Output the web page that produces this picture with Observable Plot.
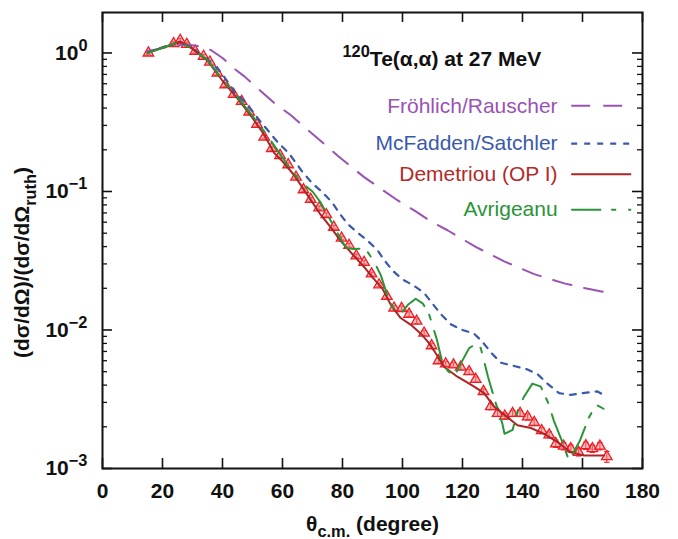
<!DOCTYPE html>
<html>
<head>
<meta charset="utf-8">
<script src="https://cdn.jsdelivr.net/npm/d3@7"></script>
<script src="https://cdn.jsdelivr.net/npm/@observablehq/plot@0.6"></script>
<style>
  body { margin: 0; background: #fff; }
  #chart { width: 678px; height: 539px; }
</style>
</head>
<body>
<div id="chart"></div>
<script>
// 120Te(alpha,alpha) elastic scattering at 27 MeV: ratio to Rutherford vs. c.m. angle

// Measured angular distribution (degrees, ratio, relative uncertainty)
const expTheta = [15.3, 23.7, 25.9, 28.1, 30.9, 33.7, 35.8, 38.3, 40.9, 43.7, 46.4, 48.9, 51.5, 53.9, 56.4, 59.2, 61.9, 64.5, 67.0, 69.4,
  72.2, 74.6, 77.1, 79.7, 82.2, 84.6, 87.2, 89.7, 92.2, 94.8, 97.2, 99.7, 102.2, 104.7, 107.2, 109.7, 112.0, 114.4, 117.0, 119.4,
  122.2, 124.4, 127.0, 129.4, 131.7, 134.1, 136.7, 139.2, 141.7, 143.9, 146.4, 148.9, 151.1, 153.7, 156.1, 158.7, 161.1, 163.3, 165.8, 168.1];
const expRatio = [1.00, 1.17, 1.235, 1.155, 1.03, 0.946, 0.86, 0.717, 0.59, 0.503, 0.447, 0.375, 0.305, 0.247, 0.204, 0.182, 0.156, 0.127, 0.103, 0.0877,
  0.0763, 0.068, 0.0552, 0.0461, 0.0409, 0.0343, 0.0308, 0.0254, 0.0212, 0.0175, 0.0144, 0.0143, 0.0130, 0.0116, 0.0095, 0.0077, 0.0060, 0.0057, 0.0056, 0.0054,
  0.0050, 0.0044, 0.0036, 0.0028, 0.0025, 0.00239, 0.0025, 0.0025, 0.00236, 0.00215, 0.00188, 0.00175, 0.00151, 0.00145, 0.00139, 0.00131, 0.00146, 0.00139, 0.00145, 0.00122];
const expErr = [0.03, 0.03, 0.03, 0.03, 0.03, 0.03, 0.03, 0.03, 0.03, 0.03, 0.03, 0.03, 0.03, 0.03, 0.03, 0.03, 0.03, 0.03, 0.03, 0.03,
  0.03, 0.03, 0.03, 0.03, 0.03, 0.03, 0.03, 0.03, 0.03, 0.03, 0.04, 0.04, 0.04, 0.04, 0.04, 0.04, 0.04, 0.04, 0.04, 0.04,
  0.04, 0.04, 0.04, 0.05, 0.05, 0.05, 0.05, 0.05, 0.05, 0.05, 0.05, 0.05, 0.06, 0.06, 0.06, 0.06, 0.06, 0.06, 0.06, 0.09];

// Optical-model predictions
const froTheta = [15, 22.8, 28, 32, 36.1, 40, 43.9, 47.4, 52.8, 57, 62.8, 70.6, 78.3, 87.2, 98.3, 103.9, 109.4, 115, 124.4, 133.9, 143.9, 153.9, 161, 167.7];
const froRatio = [1.03, 1.12, 1.15, 1.12, 1.05, 0.92, 0.77, 0.675, 0.53, 0.44, 0.355, 0.254, 0.182, 0.127, 0.0865, 0.073, 0.061, 0.0525, 0.0398, 0.0313, 0.0253, 0.0217, 0.0200, 0.0187];

const mcfTheta = [15, 20, 26, 30, 35, 38.9, 41.4, 44.1, 46.9, 49.8, 52.8, 55.5, 58.3, 62.2, 66.7, 70, 73.3, 76.6, 78.9, 81.7, 85, 88.3, 91.7, 93.9,
  96.7, 100, 103.9, 107.2, 110, 112.8, 116.1, 120, 123.9, 126.7, 129.4, 132.8, 137.2, 141.5, 145, 148.3, 152.2, 156.1, 160, 165, 167];
const mcfRatio = [1.0, 1.1, 1.2, 1.08, 0.9, 0.75, 0.635, 0.52, 0.455, 0.385, 0.317, 0.27, 0.228, 0.188, 0.138, 0.114, 0.099, 0.083, 0.070, 0.0584, 0.0505, 0.0443, 0.0376, 0.032,
  0.0268, 0.0232, 0.0208, 0.0185, 0.0155, 0.013, 0.011, 0.0100, 0.0094, 0.0082, 0.0069, 0.0058, 0.0055, 0.0052, 0.0048, 0.0041, 0.0035, 0.0034, 0.0035, 0.0036, 0.0034];

const demTheta = [15, 20, 23.7, 26, 30, 35, 40, 45, 50, 54, 57.2, 60, 63.9, 66.5, 69.4, 72.5, 76.1, 79, 81.5, 84.2, 87.2, 90, 93.3, 96.1, 99.4,
  102.8, 106.1, 108.5, 110.5, 113.9, 118.3, 123.9, 127.2, 130.5, 135, 138.3, 142.8, 147.2, 151.7, 156.1, 160.5, 167.2];
const demRatio = [1.00, 1.09, 1.16, 1.21, 1.07, 0.88, 0.63, 0.47, 0.34, 0.255, 0.19, 0.165, 0.131, 0.108, 0.087, 0.069, 0.055, 0.045, 0.039, 0.0336, 0.0285, 0.024, 0.0199, 0.0152, 0.0122,
  0.0109, 0.0094, 0.0082, 0.0071, 0.0054, 0.0046, 0.0039, 0.0035, 0.0028, 0.00234, 0.00205, 0.00196, 0.00178, 0.00155, 0.00131, 0.00124, 0.00124];

const avrTheta = [15, 20, 23.7, 26, 30, 35, 40, 45, 50, 54, 57.2, 62.2, 66.1, 70, 72.6, 75.3, 77.5, 80, 81.5, 83.5, 87.2, 88.3, 90.6, 92.8, 95.3, 97.2, 99.4,
  101.8, 104.4, 106.8, 108.9, 111.4, 113.3, 115, 117.2, 119.2, 122.2, 124.4, 126.1, 128.5, 130.8, 133.3, 134, 136.7, 138.6, 140.5, 143.3, 146.1, 148.5,
  150.5, 153.3, 155.5, 159.2, 162, 164.5, 167];
const avrRatio = [1.0, 1.09, 1.16, 1.2, 1.07, 0.89, 0.64, 0.48, 0.35, 0.27, 0.215, 0.15, 0.117, 0.100, 0.084, 0.066, 0.054, 0.043, 0.039, 0.0385, 0.0387, 0.0368, 0.031, 0.0248, 0.0168, 0.014, 0.0131,
  0.0152, 0.0168, 0.0155, 0.0129, 0.0086, 0.0058, 0.0051, 0.0046, 0.0056, 0.0074, 0.0079, 0.0074, 0.0046, 0.0031, 0.0021, 0.00178, 0.0019, 0.0027, 0.0033, 0.0041, 0.0039, 0.0030,
  0.0022, 0.00155, 0.00114, 0.0016, 0.0023, 0.0029, 0.0027];

// Axis ticks and labels
const xTicks = [0, 20, 40, 60, 80, 100, 120, 140, 160, 180];
const yMajor = [1, 0.1, 0.01, 0.001];
const yExponent = ["0", "\u22121", "\u22122", "\u22123"];

// Model names in legend order
const modelNames = ["Fröhlich/Rauscher", "McFadden/Satchler", "Demetriou (OP I)", "Avrigeanu"];

// ---- styling and layout ----
const W = 678, H = 539;
const M = {left: 102, right: 36, top: 12, bottom: 71};
const plotW = W - M.left - M.right, plotH = H - M.top - M.bottom;
const FONT = "'Liberation Sans', Arial, Helvetica, sans-serif";
const FS = 21;

const modelStyle = [
  {color: "#9a52b3", dash: "19,13", width: 2},
  {color: "#3a59ab", dash: "6,7", width: 2.2},
  {color: "#ad2424", dash: null, width: 2},
  {color: "#2a9438", dash: "30,10,5,12", width: 2}
];
const legendText = {x: 151.7, color: ["#9a52b3", "#3a59ab", "#b22a2a", "#2a9438"]};
const legendRows = [0.4155, 0.2215, 0.133, 0.0739];
const legendLine = {x1: 156.4, x2: 176.4};

const rows = (th, r) => th.map((t, i) => ({theta: t, ratio: r[i]}));
const measured = expTheta.map((t, i) => ({theta: t, ratio: expRatio[i], err: expErr[i]}));
const models = [rows(froTheta, froRatio), rows(mcfTheta, mcfRatio), rows(demTheta, demRatio), rows(avrTheta, avrRatio)];

// minor log ticks 2..9 per decade
const yMinor = [];
for (let e = -3; e <= 0; e++) for (let k = 2; k <= 9; k++) {
  const v = k * Math.pow(10, e);
  if (v < 1.96) yMinor.push(v);
}

const red = "#ee1c24";
const marks = [
  // measured data: error bars, caps, triangles
  Plot.ruleX(measured, {x: "theta", y1: d => d.ratio * (1 - d.err), y2: d => d.ratio * (1 + d.err), stroke: red, strokeWidth: 1.2}),
  Plot.link(measured, {x1: d => d.theta - 0.9, x2: d => d.theta + 0.9, y1: d => d.ratio * (1 - d.err), y2: d => d.ratio * (1 - d.err), stroke: red, strokeWidth: 1.2}),
  Plot.link(measured, {x1: d => d.theta - 0.9, x2: d => d.theta + 0.9, y1: d => d.ratio * (1 + d.err), y2: d => d.ratio * (1 + d.err), stroke: red, strokeWidth: 1.2}),
  Plot.dot(measured, {x: "theta", y: "ratio", symbol: "triangle", r: 3.9, stroke: red, strokeWidth: 1.3, fill: "#ff8a8a", fillOpacity: 0.55})
];

models.forEach((data, i) => {
  const s = modelStyle[i];
  marks.push(Plot.line(data, {x: "theta", y: "ratio", stroke: s.color, strokeWidth: s.width, strokeDasharray: s.dash || undefined, curve: "linear"}));
});

// legend
modelNames.forEach((name, i) => {
  const s = modelStyle[i];
  marks.push(Plot.text([name], {x: () => legendText.x, y: () => legendRows[i], text: d => d, textAnchor: "end",
    fill: legendText.color[i], fontSize: FS, fontFamily: FONT}));
  marks.push(Plot.ruleY([legendRows[i]], {x1: legendLine.x1, x2: legendLine.x2, stroke: s.color, strokeWidth: s.width,
    strokeDasharray: s.dash || undefined}));
});

marks.push(
  Plot.frame({stroke: "#111", strokeWidth: 2}),
  // inward ticks on all four sides
  Plot.tickX(xTicks, {x: d => d, insetTop: plotH - 10, stroke: "#111", strokeWidth: 1.6}),
  Plot.tickX(xTicks, {x: d => d, insetBottom: plotH - 10, stroke: "#111", strokeWidth: 1.6}),
  Plot.tickY(yMajor, {y: d => d, insetRight: plotW - 10, stroke: "#111", strokeWidth: 1.6}),
  Plot.tickY(yMajor, {y: d => d, insetLeft: plotW - 10, stroke: "#111", strokeWidth: 1.6}),
  Plot.tickY(yMinor, {y: d => d, insetRight: plotW - 5, stroke: "#111", strokeWidth: 1.3}),
  Plot.tickY(yMinor, {y: d => d, insetLeft: plotW - 5, stroke: "#111", strokeWidth: 1.3}),
  Plot.axisX(xTicks, {anchor: "bottom", tickSize: 0, tickPadding: 15, fontSize: FS, fontWeight: "bold", fontFamily: FONT, label: null}),
  Plot.text(yMajor, {frameAnchor: "left", y: d => d, text: (d, i) => "10" + yExponent[i], textAnchor: "end", dx: -15,
    fontSize: FS, fontWeight: "bold", fontFamily: FONT, ariaDescription: "ytick-label"}),
  Plot.text(["\u03b8c.m. (degree)"], {frameAnchor: "bottom", text: d => d, dy: 62, lineAnchor: "bottom", textAnchor: "middle",
    fontSize: FS, fontWeight: "bold", fontFamily: FONT, ariaDescription: "x-title"}),
  Plot.text(["(d\u03c3/d\u03a9)/(d\u03c3/d\u03a9ruth)"], {frameAnchor: "left", text: d => d, dx: -80, dy: 22, rotate: -90, textAnchor: "middle",
    fontSize: FS, fontWeight: "bold", fontFamily: FONT, ariaDescription: "y-title"}),
  Plot.text(["120Te(\u03b1,\u03b1) at 27 MeV"], {frameAnchor: "top-left", text: d => d, dx: 240, dy: 53, textAnchor: "start",
    lineAnchor: "bottom", fontSize: FS, fontWeight: "bold", fontFamily: FONT, ariaDescription: "reaction-title"})
);

const chart = Plot.plot({
  width: W, height: H,
  marginLeft: M.left, marginRight: M.right, marginTop: M.top, marginBottom: M.bottom,
  x: {domain: [0, 180], axis: null},
  y: {type: "log", domain: [1e-3, 1.96], axis: null},
  style: {fontFamily: FONT, background: "#fff", color: "#111"},
  marks
});

// sub- and superscripts inside the text labels
const NS = "http://www.w3.org/2000/svg";
function richText(el, parts, base) {
  el.textContent = "";
  let shift = 0;
  for (const [s, kind] of parts) {
    const t = document.createElementNS(NS, "tspan");
    t.textContent = s;
    const target = kind === "sup" ? -0.42 * base : kind === "sub" ? 0.3 * base : 0;
    if (kind) t.setAttribute("font-size", (base * 0.78).toFixed(1));
    if (target - shift !== 0) t.setAttribute("dy", (target - shift).toFixed(1));
    shift = target;
    el.appendChild(t);
  }
}
const textsOf = key => chart.querySelectorAll(`[aria-description="${key}"] text`);
textsOf("ytick-label").forEach((el, i) => {
  richText(el, [["10", null], [yExponent[i], "sup"]], FS);
});
textsOf("x-title").forEach(el => {
  richText(el, [["\u03b8", null], ["c.m.", "sub"], [" (degree)", null]], FS);
});
textsOf("y-title").forEach(el => {
  richText(el, [["(d\u03c3/d\u03a9)/(d\u03c3/d\u03a9", null], ["ruth", "sub"], [")", null]], FS);
});
textsOf("reaction-title").forEach(el => {
  richText(el, [["120", "sup"], ["Te(\u03b1,\u03b1) at 27 MeV", null]], FS);
});

document.getElementById("chart").appendChild(chart);
</script>
</body>
</html>
